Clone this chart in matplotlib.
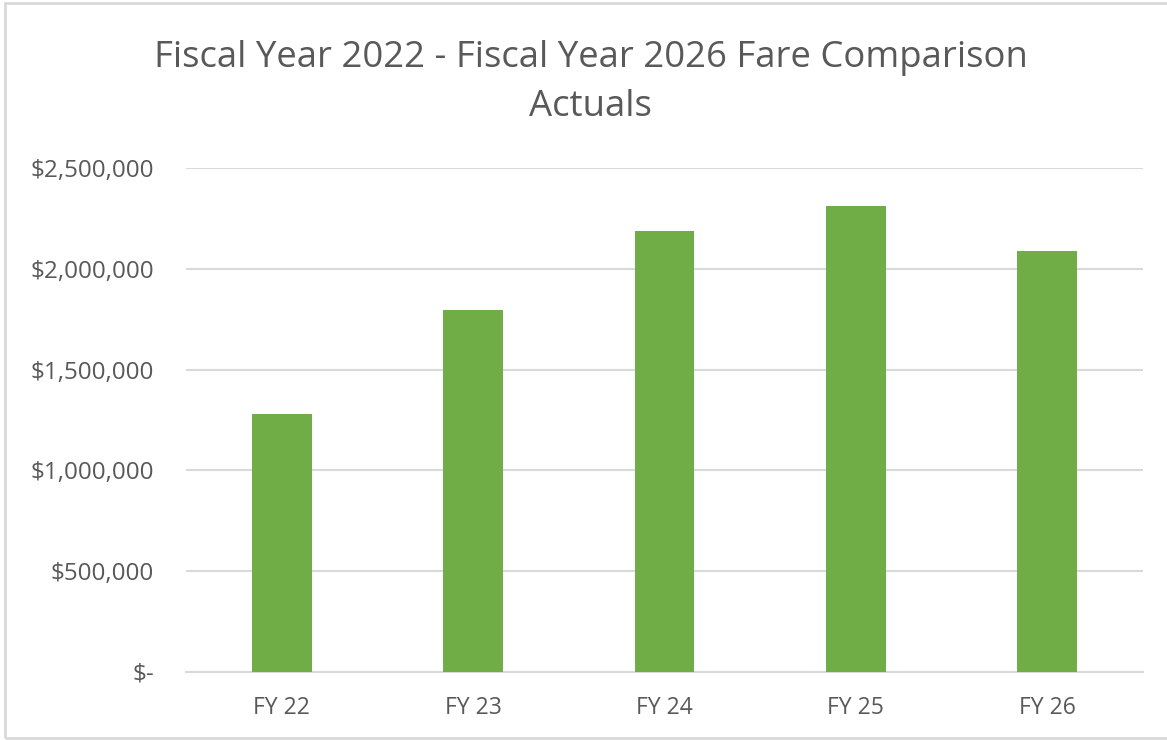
import matplotlib
matplotlib.use('Agg')
from matplotlib import pyplot as plt
from matplotlib.patches import Rectangle
from matplotlib.ticker import FuncFormatter

categories = ['FY 22', 'FY 23', 'FY 24', 'FY 25', 'FY 26']
fares = [1280000, 1796000, 2187000, 2312000, 2088000]
yticks = [0, 500000, 1000000, 1500000, 2000000, 2500000]

GREEN = '#70ad47'
GRID = '#d9d9d9'
TEXT = '#595959'

plt.rcParams['font.family'] = ['Open Sans', 'DejaVu Sans']


def money(v, pos):
    if v == 0:
        return '$-'
    return f'${v:,.0f}'


fig = plt.figure(figsize=(11.67, 7.4), dpi=100)
ax = fig.add_axes([0.1594, 0.0919, 0.82, 0.6811])

x = list(range(len(categories)))
ax.bar(x, fares, width=0.313, color=GREEN, zorder=3)

ax.set_xlim(-0.5, len(categories) - 0.5)
ax.set_ylim(0, 2500000)
ax.set_yticks(yticks)
ax.yaxis.set_major_formatter(FuncFormatter(money))
ax.set_xticks(x)
ax.set_xticklabels(categories)
ax.grid(axis='y', color=GRID, linewidth=1.5, zorder=0)
ax.tick_params(axis='both', length=0, colors=TEXT)
ax.tick_params(axis='y', pad=23, labelsize=17.5)
ax.tick_params(axis='x', pad=17, labelsize=16.5)
for s in ['top', 'right', 'left']:
    ax.spines[s].set_visible(False)
ax.spines['bottom'].set_color(GRID)
ax.spines['bottom'].set_linewidth(1.5)

fig.text(0.506, 0.922, 'Fiscal Year 2022 - Fiscal Year 2026 Fare Comparison',
         ha='center', va='center', fontsize=26.3, color=TEXT)
fig.text(0.506, 0.856, 'Actuals', ha='center', va='center', fontsize=26.3, color=TEXT)

# outer chart border
fig.patches.append(Rectangle((0.004, 0.003), 1.2, 0.993, transform=fig.transFigure,
                             fill=False, edgecolor=GRID, linewidth=2))

fig.savefig('out.png', dpi=100)
